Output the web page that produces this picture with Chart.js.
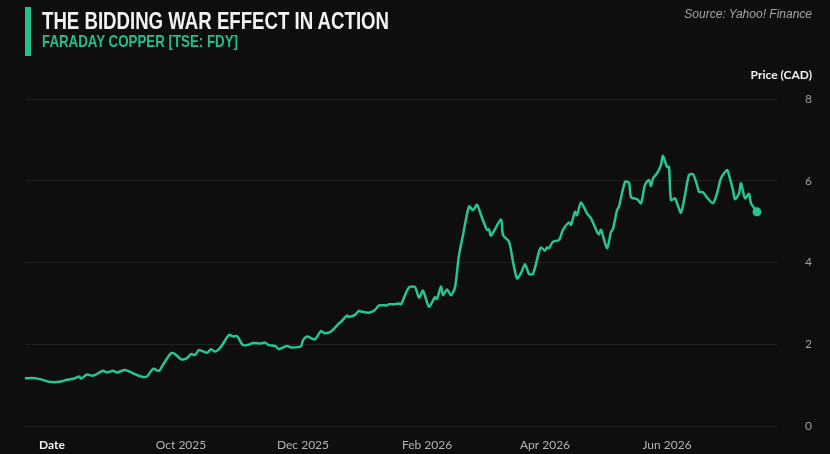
<!DOCTYPE html>
<html>
<head>
<meta charset="utf-8">
<script src="https://cdn.jsdelivr.net/npm/chart.js@4.4.1/dist/chart.umd.min.js"></script>
<style>
  html, body { margin: 0; padding: 0; background: #0e0e10; }
  #wrap { position: relative; width: 830px; height: 454px; overflow: hidden; background: #0e0e10; }
  #chart { position: absolute; left: 0; top: 0; }
  .bar { position: absolute; left: 25px; top: 7px; width: 6px; height: 49px; background: #1fc08a; }
  .title, .subtitle { position: absolute; left: 42px; white-space: nowrap; line-height: 1; transform-origin: 0 0;
    font-family: "Liberation Sans Narrow", "Liberation Sans", sans-serif; font-weight: bold; }
  .title { top: 9px; font-size: 24px; color: #f2f2f2; }
  .subtitle { top: 33px; font-size: 17px; color: #1fc08a; }
  .source { position: absolute; right: 18px; top: 8px; font: italic 12px "Liberation Sans", sans-serif; color: #a6a6a6; line-height: 1; }
  .ylab { position: absolute; right: 18px; top: 69px; font: bold 12px Lato, sans-serif; color: #f2f2f2; line-height: 1; }
  .xlab { position: absolute; left: 39px; top: 439px; font: bold 12px Lato, sans-serif; color: #f2f2f2; line-height: 1; }
</style>
</head>
<body>
<div id="wrap">
  <canvas id="chart" width="830" height="454"></canvas>
  <div class="bar"></div>
  <div class="title" data-w="347">THE BIDDING WAR EFFECT IN ACTION</div>
  <div class="subtitle" data-w="196">FARADAY COPPER [TSE: FDY]</div>
  <div class="source">Source: Yahoo! Finance</div>
  <div class="ylab">Price (CAD)</div>
  <div class="xlab">Date</div>
</div>
<script>
// --- DATA ---
// day 0 = 15 Jul 2025
const days = [
  0, 5, 8, 12, 17, 21, 25, 27, 28, 31, 34, 39, 41, 44, 46, 50, 54, 58, 61, 64,
  67, 69, 73, 75, 78, 81, 83, 85, 87, 91, 93, 95, 98, 102, 104, 106, 109, 112, 114, 118,
  120, 122, 125, 127, 131, 133, 138, 139, 141, 143, 145, 148, 150, 153, 157, 158, 161, 162, 165, 167,
  168, 172, 175, 177, 181, 182, 185, 187, 188, 190, 192, 195, 197, 199, 202, 205, 206, 208, 209, 211,
  213, 215, 217, 219, 222, 224, 226, 228, 231, 232, 233, 238, 239, 242, 244, 246, 248, 250, 252, 254,
  257, 258, 260, 261, 262, 264, 267, 269, 272, 273, 275, 276, 278, 281, 283, 286, 287, 288, 291, 293,
  294, 296, 297, 300, 302, 303, 306, 308, 310, 312, 313, 314, 316, 318, 319, 321, 322, 323, 325, 326,
  328, 330, 332, 334, 336, 337, 339, 341, 344, 346, 348, 351, 352, 354, 355, 357, 358, 360, 362, 363,
  366
];
const prices = [
  1.17, 1.17, 1.14, 1.08, 1.08, 1.13, 1.17, 1.21, 1.16, 1.26, 1.23, 1.35, 1.31, 1.35, 1.31, 1.37, 1.29, 1.21, 1.21, 1.40,
  1.35, 1.50, 1.78, 1.76, 1.63, 1.66, 1.76, 1.74, 1.86, 1.79, 1.88, 1.82, 1.94, 2.23, 2.19, 2.20, 1.98, 1.99, 2.03, 2.02,
  2.04, 1.98, 1.96, 1.88, 1.96, 1.92, 1.95, 2.10, 2.19, 2.15, 2.12, 2.32, 2.27, 2.31, 2.51, 2.55, 2.70, 2.67, 2.72, 2.82,
  2.80, 2.77, 2.84, 2.95, 2.95, 2.98, 2.98, 3.00, 2.98, 3.20, 3.39, 3.40, 3.14, 3.31, 2.92, 3.15, 3.11, 3.41, 3.20, 3.34,
  3.20, 3.39, 4.18, 4.67, 5.37, 5.28, 5.41, 5.16, 4.80, 4.81, 4.66, 5.05, 4.67, 4.51, 4.02, 3.61, 3.74, 3.96, 3.72, 3.72,
  4.26, 4.37, 4.29, 4.37, 4.35, 4.51, 4.55, 4.80, 4.98, 4.92, 5.24, 5.16, 5.47, 5.20, 5.08, 4.75, 4.69, 4.80, 4.35, 4.75,
  4.82, 5.28, 5.37, 5.97, 5.95, 5.60, 5.55, 5.45, 5.90, 6.02, 5.87, 6.06, 6.18, 6.39, 6.61, 6.34, 6.34, 5.53, 5.57, 5.45,
  5.22, 5.65, 6.14, 6.16, 5.90, 5.73, 5.72, 5.59, 5.45, 5.69, 6.06, 6.26, 6.14, 5.77, 5.55, 5.69, 5.94, 5.57, 5.68, 5.45,
  5.24
];
const tickDays = [78, 139, 201, 260, 321];
const tickLabels = ['Oct 2025', 'Dec 2025', 'Feb 2026', 'Apr 2026', 'Jun 2026'];
const yTicks = [0, 2, 4, 6, 8];

const LINE = '#26c68e';
const lastIdx = prices.length - 1;

// squeeze the headline fonts to the reference width
document.querySelectorAll('[data-w]').forEach(el => {
  const w = el.getBoundingClientRect().width;
  el.style.transform = `scaleX(${parseFloat(el.dataset.w) / w})`;
});

const ctx = document.getElementById('chart').getContext('2d');
new Chart(ctx, {
  type: 'line',
  data: {
    datasets: [{
      data: days.map((d, i) => ({ x: d, y: prices[i] })),
      borderColor: LINE,
      backgroundColor: LINE,
      borderWidth: 2.5,
      tension: 0.25,
      pointRadius: c => c.dataIndex === lastIdx ? 4.5 : 0,
      pointBorderWidth: 0,
      pointBackgroundColor: LINE
    }]
  },
  options: {
    responsive: false,
    maintainAspectRatio: false,
    animation: false,
    layout: { padding: { top: 99, left: 25, right: 0, bottom: 0 } },
    plugins: { legend: { display: false }, tooltip: { enabled: false } },
    scales: {
      x: {
        type: 'linear', min: 0, max: 376,
        grid: { display: false },
        border: { display: false },
        afterBuildTicks: s => { s.ticks = tickDays.map(v => ({ value: v })); },
        afterFit: s => { s.height = 28; },
        ticks: {
          autoSkip: false, maxRotation: 0, padding: 4,
          color: '#b4b4b4', font: { family: 'Lato', size: 12 },
          callback: (v, i) => tickLabels[i]
        }
      },
      y: {
        position: 'right', min: 0, max: 8,
        afterBuildTicks: s => { s.ticks = yTicks.map(v => ({ value: v })); },
        // fixed axis width, no extra label padding above/below the plot
        afterFit: s => { s.width = 53; s.paddingTop = 0; s.paddingBottom = 0; },
        grid: { color: 'rgba(255,255,255,0.07)', drawTicks: false },
        border: { display: false },
        ticks: { padding: 28, color: '#a0a0a0', font: { family: 'Lato', size: 12 } }
      }
    }
  }
});
</script>
</body>
</html>
